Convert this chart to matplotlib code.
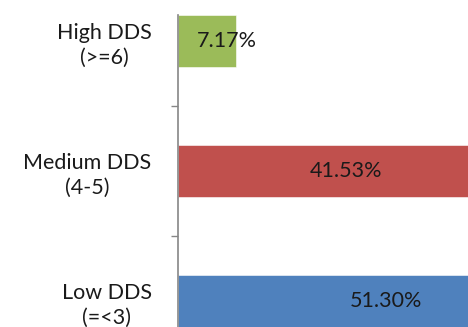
import matplotlib
matplotlib.use("Agg")
import matplotlib.pyplot as plt

# diet diversity score groups, bottom to top
groups = ["Low DDS\n(=<3)", "Medium DDS\n(4-5)", "High DDS\n(>=6)"]
shares = [51.30, 41.53, 7.17]
colors = ["#4F81BD", "#C0504D", "#9BBB59"]

plt.rcParams["font.family"] = ["Lato", "DejaVu Sans"]
FS = 15.5

fig = plt.figure(figsize=(4.68, 3.27), dpi=100)
ax = fig.add_axes([178 / 468, 0, 1 - 178 / 468, 1 - 15 / 327])

pos = list(range(len(groups)))
bars = ax.barh(pos, shares, height=0.4, color=colors,
               edgecolor="white", linewidth=0.4)

# value labels
for p, v in zip(pos, shares):
    if v > 20:
        ax.text(v / 2, p, "%.2f%%" % v, ha="center", va="center",
                fontsize=FS, color="#1a1a1a")
    else:
        ax.annotate("%.2f%%" % v, (v, p), xytext=(-9, 0),
                    textcoords="offset pixels", ha="center", va="center",
                    fontsize=FS, color="#1a1a1a")

# category labels sit between the boundary ticks
ax.set_yticks([-0.5, 0.5, 1.5, 2.5])
ax.set_yticklabels([])
ax.set_yticks(pos, minor=True)
ax.set_yticklabels(groups, minor=True, fontsize=FS, color="#1a1a1a",
                   multialignment="center", linespacing=1.3)
ax.tick_params(axis="y", which="major", length=5, width=1, color="#868686")
ax.tick_params(axis="y", which="minor", length=0, pad=19)
ax.set_xticks([])

ax.set_xlim(0, 35.85)
ax.set_ylim(-0.2, 2.2)

for s in ["top", "right", "bottom"]:
    ax.spines[s].set_visible(False)
ax.spines["left"].set_color("#868686")
ax.spines["left"].set_linewidth(1.2)

fig.savefig("out.png", dpi=100)
